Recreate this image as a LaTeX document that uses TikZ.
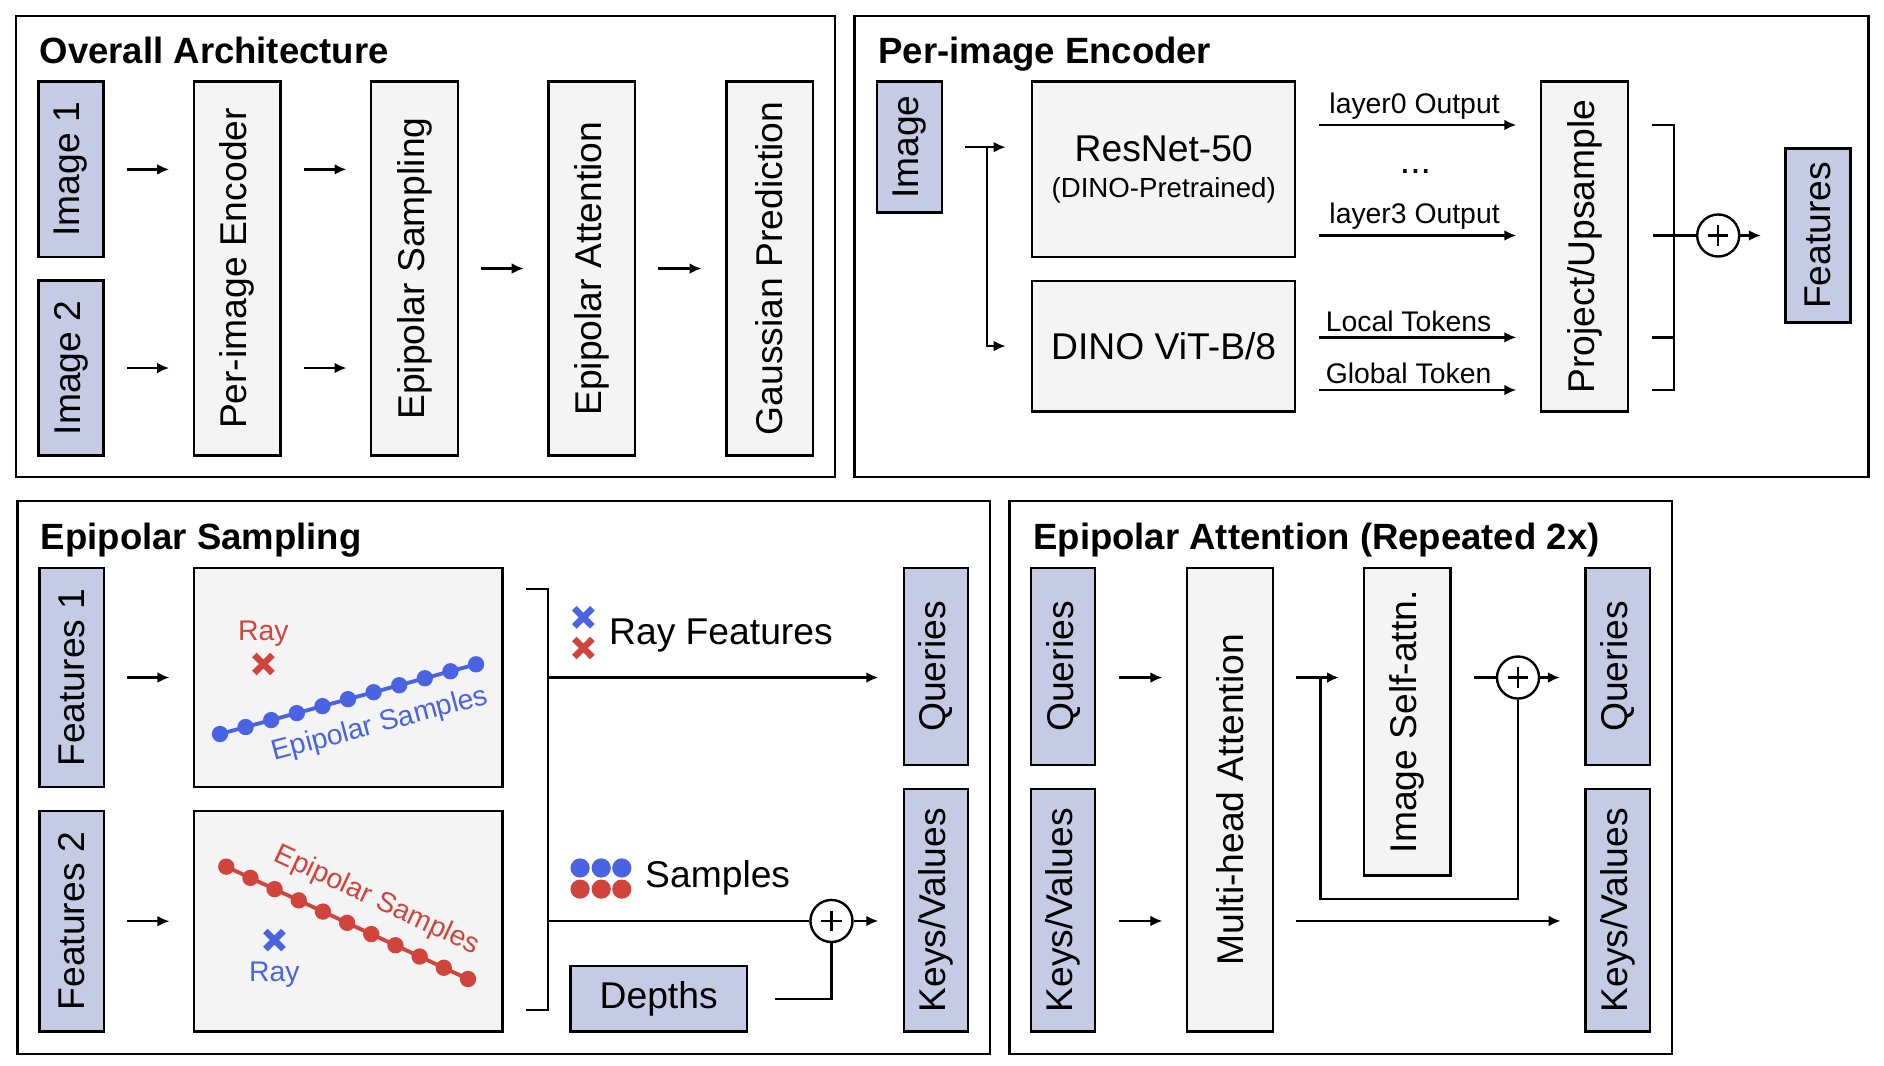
\documentclass[tikz,border=0pt]{standalone}
\usepackage{fontspec}
\setmainfont{Liberation Sans}
\usetikzlibrary{arrows.meta,calc}

\definecolor{inblue}{HTML}{C5CAE5}
\definecolor{boxgray}{HTML}{F4F4F4}
\definecolor{dotblue}{HTML}{4A63E3}
\definecolor{dotred}{HTML}{D1443C}

\begin{document}
\begin{tikzpicture}[
                    x=0.5pt,
                    y=-0.5pt,
                    line width=1pt,
                    >={Latex[length=5pt,width=4.5pt]},
                    arr/.style={->, shorten <=9.2pt, shorten >=9.8pt},
                    inbox/.style={draw, fill=inblue, inner sep=0pt, font=\fontsize{15.5}{18}\selectfont},
                    block/.style={draw, fill=boxgray, inner sep=0pt, font=\fontsize{15.5}{18}\selectfont},
                    heading/.style={anchor=base west, inner sep=0pt, font=\fontsize{15.2}{18}\selectfont\bfseries},
                    lbl/.style={inner sep=2pt, font=\fontsize{11.8}{14}\selectfont},
                    legend/.style={anchor=west, inner sep=0pt, font=\fontsize{15.5}{18}\selectfont},
                    raycross/.pic={\draw[line width=2.7pt] (-7.5,-7.5) -- (7.5,7.5) (-7.5,7.5) -- (7.5,-7.5);}
                ]
                \tikzstyle{addnode}=[
                    draw,
                    circle,
                    fill=white,
                    minimum size=17.5pt,
                    inner sep=0pt,
                    path picture={\draw[line width=0.9pt]
                        ([xshift=-4.2pt]path picture bounding box.center) -- ([xshift=4.2pt]path picture bounding box.center)
                        ([yshift=-4.2pt]path picture bounding box.center) -- ([yshift=4.2pt]path picture bounding box.center);}
                ]

                \useasboundingbox (0,0) rectangle (1568,887.2);

                % overall architecture
                \draw (13.5,13.3) rectangle (695,397);
                \node[heading] (T1) at (32,52.5) {Overall Architecture};
                \node[inbox, minimum width=27pt, minimum height=73pt] (I1) at (59,141) {\rotatebox{90}{Image 1}};
                \node[inbox, minimum width=27pt, minimum height=72.7pt] (I2) at (59,306.3) {\rotatebox{90}{Image 2}};
                \node[block, minimum width=36pt, minimum height=155.5pt] (E) at (197.4,223.5) {\rotatebox{90}{Per-image Encoder}};
                \node[block, minimum width=36pt, minimum height=155.5pt] (S) at (345,223.5) {\rotatebox{90}{Epipolar Sampling}};
                \node[block, minimum width=36pt, minimum height=155.5pt] (A) at (492.5,223.5) {\rotatebox{90}{Epipolar Attention}};
                \node[block, minimum width=36pt, minimum height=155.5pt] (G) at (640.5,223.5) {\rotatebox{90}{Gaussian Prediction}};

                \draw[arr] (I1.east) -- (I1.east -| E.west);
                \draw[arr] (I2.east) -- (I2.east -| E.west);
                \draw[arr] (E.east |- I1) -- (S.west |- I1);
                \draw[arr] (E.east |- I2) -- (S.west |- I2);
                \draw[arr] (S.east) -- (A.west);
                \draw[arr] (A.east) -- (G.west);

                % per-image encoder
                \draw (711,13.3) rectangle (1555,397);
                \node[heading] (T2) at (730,52.5) {Per-image Encoder};
                \node[inbox, minimum width=27pt, minimum height=54.5pt] (Im) at (757,122.5) {\rotatebox{90}{Image}};
                \node[block, minimum width=109.5pt, minimum height=73pt, align=center] (R) at (968.5,141)
                    {ResNet-50\\[-3pt]{\fontsize{11.5}{14}\selectfont(DINO-Pretrained)}};
                \node[block, minimum width=109.5pt, minimum height=54.35pt] (D) at (968.5,288) {DINO ViT-B/8};
                \node[block, minimum width=36.2pt, minimum height=137.2pt] (P) at (1318.8,205.2) {\rotatebox{90}{Project/Upsample}};
                \node[inbox, minimum width=27pt, minimum height=72.5pt] (F) at (1513,196) {\rotatebox{90}{Features}};
                \node[addnode] (C1) at (1430,196) {};

                \draw[->, shorten <=9pt, shorten >=10.5pt] (Im.east) -- (Im.east -| R.west);
                \draw[->, shorten >=10.5pt] ([xshift=18.25pt]Im.east) |- (D.west);
                \draw[arr, shorten <=9.5pt] (R.east |- 0,104) -- (P.west |- 0,104)
                    node[lbl, midway, above, xshift=-1.5pt] {layer0 Output};
                \node[font=\fontsize{15.5}{18}\selectfont, anchor=base, inner sep=0pt] (dd) at (1178,144) {...};
                \draw[arr, shorten <=9.5pt] (R.east |- 0,196) -- (P.west |- 0,196)
                    node[lbl, midway, above, xshift=-1.5pt] {layer3 Output};
                \draw[arr, shorten <=9.5pt] (D.east |- 0,280.8) -- (P.west |- 0,280.8)
                    node[lbl, midway, above, xshift=-4pt] {Local Tokens};
                \draw[arr, shorten <=9.5pt] (D.east |- 0,324.6) -- (P.west |- 0,324.6)
                    node[lbl, midway, above, xshift=-4pt] {Global Token};

                \draw (1374.6,104) -- (1393,104) -- (1393,324.6) -- (1374.6,324.6);
                \draw (1374.6,280.8) -- (1393,280.8);
                \draw ([xshift=9.8pt]P.east |- C1) -- (C1);
                \draw[->, shorten >=9.75pt] (C1) -- (F);

                % epipolar sampling
                \draw (14.4,417) rectangle (824,877);
                \node[heading] (T3) at (33,457) {Epipolar Sampling};
                \node[inbox, minimum width=26.7pt, minimum height=91.2pt] (F1) at (59.7,563.9) {\rotatebox{90}{Features 1}};
                \node[inbox, minimum width=26.7pt, minimum height=91.7pt] (F2) at (59.7,766.7) {\rotatebox{90}{Features 2}};
                \node[block, minimum width=128.35pt, minimum height=91.2pt] (V1) at (290,563.9) {};
                \node[block, minimum width=128.35pt, minimum height=91.7pt] (V2) at (290,766.7) {};
                \node[inbox, minimum width=26.7pt, minimum height=82pt] (Q1) at (778.9,554.7) {\rotatebox{90}{Queries}};
                \node[inbox, minimum width=26.7pt, minimum height=100.85pt] (K1) at (778.9,757.5) {\rotatebox{90}{Keys/Values}};
                \node[inbox, minimum width=73.35pt, minimum height=27.2pt] (Dp) at (548.2,831.2) {Depths};
                \node[addnode] (C2) at (692,766.5) {};

                \draw[arr] (F1) -- (V1);
                \draw[arr] (F2) -- (V2);

                % view 1
                \node[lbl, text=dotred] (r1) at (219.2,527) {Ray};
                \pic[dotred] at (219.2,552.6) {raycross};
                \coordinate (bA) at (183.1,610.9);
                \coordinate (bB) at (396.2,552.9);
                \draw[dotblue, line width=1.6pt] (bA) -- (bB);
                \foreach \i in {0,...,10}
                    \fill[dotblue] ($(bA)!\i/10!(bB)$) circle (3.4pt);
                \node[lbl, text=dotblue, rotate=15] (s1) at (316.3,603.4) {Epipolar Samples};

                % view 2
                \coordinate (rA) at (188.3,721.3);
                \coordinate (rB) at (389.5,814.8);
                \draw[dotred, line width=1.6pt] (rA) -- (rB);
                \foreach \i in {0,...,10}
                    \fill[dotred] ($(rA)!\i/10!(rB)$) circle (3.4pt);
                \node[lbl, text=dotred, rotate=-25] (s2) at (313.5,749.5) {Epipolar Samples};
                \pic[dotblue] at (228.4,782.4) {raycross};
                \node[lbl, text=dotblue] (r2) at (228.4,811.5) {Ray};

                % bracket and outputs
                \coordinate (bt) at (456,490);
                \coordinate (bb) at (456,840.5);
                \draw (437.5,490) -- (bt) -- (bb) -- (437.5,840.5);
                \draw[->, shorten >=10.1pt] (bt |- F1) -- (Q1.west |- F1);
                \draw (bt |- C2) -- (C2);
                \draw[->, shorten >=10.1pt] (C2) -- (K1.west |- C2);
                \draw[shorten <=11.25pt] (Dp.east) -| (C2);

                \pic[dotblue] at (485.5,513.8) {raycross};
                \pic[dotred] at (485.5,539.3) {raycross};
                \node[legend] (lr) at (506,529) {Ray Features};
                \foreach \x in {482.8,500.4,517.5} {
                    \fill[dotblue] (\x,722.4) circle (4pt);
                    \fill[dotred] (\x,740) circle (4pt);
                }
                \node[legend] (ls) at (536,730.3) {Samples};

                % epipolar attention
                \draw (840.3,417) rectangle (1391.6,877);
                \node[heading] (T4) at (859,457) {Epipolar Attention (Repeated 2x)};
                \node[inbox, minimum width=26.6pt, minimum height=82pt] (Q2) at (884.9,554.7) {\rotatebox{90}{Queries}};
                \node[inbox, minimum width=26.6pt, minimum height=100.85pt] (K2) at (884.9,757.5) {\rotatebox{90}{Keys/Values}};
                \node[block, minimum width=35.75pt, minimum height=192.85pt] (M) at (1023.8,665.5) {\rotatebox{90}{Multi-head Attention}};
                \node[block, minimum width=36.15pt, minimum height=128pt] (SA) at (1171.2,600.8) {\rotatebox{90}{Image Self-attn.}};
                \node[inbox, minimum width=26.9pt, minimum height=82pt] (Q3) at (1346.4,554.7) {\rotatebox{90}{Queries}};
                \node[inbox, minimum width=26.9pt, minimum height=100.85pt] (K3) at (1346.4,757.5) {\rotatebox{90}{Keys/Values}};
                \node[addnode] (C3) at (1263.4,563.9) {};

                \draw[arr] (Q2.east |- C3) -- (M.west |- C3);
                \draw[arr] (K2.east |- C2) -- (M.west |- C2);
                \draw[arr] (M.east |- C3) -- (SA.west |- C3);
                \draw ([xshift=19.15pt]M.east |- C3) -- ++(0,184.3) -| (C3);
                \draw ([xshift=9.35pt]SA.east |- C3) -- (C3);
                \draw[->, shorten >=10.1pt] (C3) -- (Q3.west |- C3);
                \draw[arr] (M.east |- C2) -- (K3.west |- C2);
            \end{tikzpicture}
\end{document}
